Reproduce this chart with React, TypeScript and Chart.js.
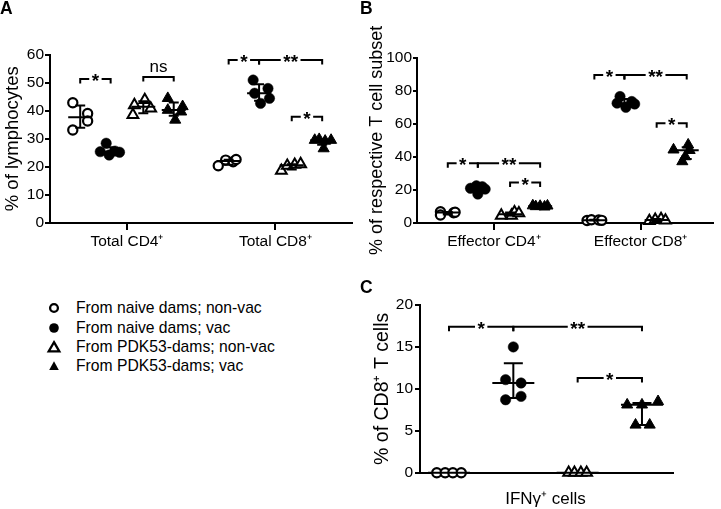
import React, { useEffect, useRef } from 'react';
import { Chart, registerables } from 'chart.js';

Chart.register(...registerables);

const FONT = '"Liberation Sans", Arial, Helvetica, sans-serif';

const GROUP_LABELS = [
  'From naive dams; non-vac',
  'From naive dams; vac',
  'From PDK53-dams; non-vac',
  'From PDK53-dams; vac',
];

// ---------- Panel A ----------
const A_CATEGORIES = ['Total CD4⁺', 'Total CD8⁺'];
const A_Y_TITLE = '% of lymphocytes';
const A_TOTAL_CD4 = [
  [42.8, 39.0, 36.3, 33.1],
  [28.4, 25.4, 25.6, 25.2, 24.2],
  [43.8, 42.0, 40.8, 38.5],
  [44.4, 40.2, 39.6, 41.5, 36.7],
];
const A_TOTAL_CD4_JITTER = [
  [-0.05, 0.05, 0.05, -0.05],
  [-0.03, -0.07, 0.03, 0.06, -0.01],
  [0.01, -0.06, 0.05, -0.07],
  [-0.04, -0.04, 0.05, 0.06, 0.01],
];
const A_TOTAL_CD8 = [
  [20.4, 22.4, 21.8, 22.6],
  [50.9, 47.9, 46.2, 44.4, 42.6],
  [18.6, 20.4, 20.8, 21.0],
  [29.5, 29.8, 29.2, 29.5, 26.5],
];
const A_TOTAL_CD8_JITTER = [
  [-0.07, -0.02, 0.03, 0.05],
  [-0.04, 0.06, -0.03, 0.07, 0.01],
  [-0.07, -0.03, 0.02, 0.06],
  [-0.05, -0.02, 0.02, 0.06, 0.01],
];
const A_SIGNIFICANCE = [
  { cat: 0, from: 0, to: 1, y: 51.3, label: '*' },
  { cat: 0, from: 2, to: 3, y: 52.0, label: 'ns' },
  { cat: 1, from: 0, to: 1, y: 58.0, label: '*' },
  { cat: 1, from: 1, to: 3, y: 58.0, label: '**' },
  { cat: 1, from: 2, to: 3, y: 37.8, label: '*' },
];

// ---------- Panel B ----------
const B_CATEGORIES = ['Effector CD4⁺', 'Effector CD8⁺'];
const B_Y_TITLE = '% of respective T cell subset';
const B_EFFECTOR_CD4 = [
  [6.8, 4.8, 6.2, 6.5],
  [21.0, 22.0, 20.5, 22.5, 17.5],
  [4.5, 4.5, 6.5, 6.0],
  [10.5, 10.0, 10.2, 9.8, 10.4],
];
const B_EFFECTOR_CD4_JITTER = [
  [-0.05, -0.05, 0.04, 0.05],
  [-0.05, 0.03, 0.05, -0.01, 0],
  [-0.06, 0.01, 0.03, 0.06],
  [-0.05, -0.03, 0, 0.03, 0.05],
];
const B_EFFECTOR_CD8 = [
  [1.5, 2.0, 1.8, 1.6],
  [76.5, 73.5, 72.5, 70.0, 72.0],
  [1.2, 2.0, 2.5, 1.5],
  [44.3, 47.3, 44.0, 40.2, 37.2],
];
const B_EFFECTOR_CD8_JITTER = [
  [-0.05, -0.02, 0.03, 0.05],
  [-0.03, 0.05, -0.05, 0.01, 0.07],
  [-0.05, -0.01, 0.03, 0.06],
  [-0.09, 0.01, 0.02, -0.01, -0.03],
];
const B_SIGNIFICANCE = [
  { cat: 0, from: 0, to: 1, y: 36.2, label: '*' },
  { cat: 0, from: 1, to: 3, y: 36.2, label: '**' },
  { cat: 0, from: 2, to: 3, y: 24.5, label: '*' },
  { cat: 1, from: 0, to: 1, y: 89.6, label: '*' },
  { cat: 1, from: 1, to: 3, y: 89.6, label: '**' },
  { cat: 1, from: 2, to: 3, y: 60.4, label: '*' },
];

// ---------- Panel C ----------
const C_CATEGORIES = ['IFNγ⁺ cells'];
const C_Y_TITLE = '% of CD8⁺ T cells';
const C_IFNG = [
  [0, 0, 0, 0],
  [15.0, 11.1, 10.7, 8.7, 9.1],
  [0, 0, 0, 0],
  [8.1, 8.1, 8.5, 5.7, 5.7],
];
const C_IFNG_JITTER = [
  [-0.19, -0.06, 0.06, 0.19],
  [0, -0.12, 0.12, -0.12, 0.12],
  [-0.14, -0.05, 0.05, 0.14],
  [-0.23, 0, 0.25, -0.1, 0.12],
];
const C_SIGNIFICANCE = [
  { cat: 0, from: 0, to: 1, y: 17.4, label: '*' },
  { cat: 0, from: 1, to: 3, y: 17.4, label: '**' },
  { cat: 0, from: 2, to: 3, y: 11.3, label: '*' },
];

const GROUP_OFFSETS = [-0.315, -0.11, 0.11, 0.315];

const GROUP_STYLES = [
  { style: 'circle', r: 4.6, fill: '#fff', bw: 2.2 },
  { style: 'circle', r: 5.2, fill: '#000', bw: 0.5 },
  { style: 'triangle', r: 6.2, fill: '#fff', bw: 2 },
  { style: 'triangle', r: 6.4, fill: '#000', bw: 1 },
];

// GraphPad-style median with interquartile range
function quantile(sorted: number[], p: number) {
  const n = sorted.length;
  let r = p * (n + 1);
  if (r < 1) r = 1;
  if (r > n) r = n;
  const lo = Math.floor(r);
  const f = r - lo;
  if (lo >= n) return sorted[n - 1];
  return sorted[lo - 1] + f * (sorted[lo] - sorted[lo - 1]);
}
function stats(vals: number[]) {
  const s = [...vals].sort((a, b) => a - b);
  return { median: quantile(s, 0.5), q1: quantile(s, 0.25), q3: quantile(s, 0.75) };
}

const annotPlugin = {
  id: 'annot',
  afterDatasetsDraw(chart: any, _args: any, opts: any) {
    const { ctx } = chart;
    const xs = chart.scales.x;
    const ys = chart.scales.y;
    ctx.save();
    ctx.strokeStyle = '#000';
    ctx.fillStyle = '#000';
    ctx.lineWidth = 2;
    ctx.lineCap = 'butt';
    ctx.lineJoin = 'miter';
    for (const b of opts.bars || []) {
      const px = xs.getPixelForValue(b.x);
      const pm = ys.getPixelForValue(b.median);
      const p1 = ys.getPixelForValue(b.q1);
      const p3 = ys.getPixelForValue(b.q3);
      ctx.beginPath();
      ctx.moveTo(px - opts.medianHalf, pm);
      ctx.lineTo(px + opts.medianHalf, pm);
      if (Math.abs(p1 - p3) > 0.5) {
        ctx.moveTo(px, p1);
        ctx.lineTo(px, p3);
        ctx.moveTo(px - opts.capHalf, p1);
        ctx.lineTo(px + opts.capHalf, p1);
        ctx.moveTo(px - opts.capHalf, p3);
        ctx.lineTo(px + opts.capHalf, p3);
      }
      ctx.stroke();
    }
    const tick = 4.5;
    for (const br of opts.brackets || []) {
      const x1 = xs.getPixelForValue(br.x1);
      const x2 = xs.getPixelForValue(br.x2);
      const y = ys.getPixelForValue(br.y);
      const mid = (x1 + x2) / 2;
      ctx.lineWidth = 2;
      ctx.beginPath();
      ctx.moveTo(x1, y + tick);
      ctx.lineTo(x1, y);
      if (br.label === 'ns') {
        ctx.lineTo(x2, y);
        ctx.lineTo(x2, y + tick);
        ctx.stroke();
        ctx.font = `17px ${FONT}`;
        ctx.textAlign = 'center';
        ctx.textBaseline = 'alphabetic';
        ctx.fillText(br.label, mid, y - 5);
      } else {
        ctx.font = `bold 19px ${FONT}`;
        const w = ctx.measureText(br.label).width;
        ctx.lineTo(mid - w / 2 - 2.5, y);
        ctx.moveTo(mid + w / 2 + 2.5, y);
        ctx.lineTo(x2, y);
        ctx.lineTo(x2, y + tick);
        ctx.stroke();
        ctx.textAlign = 'center';
        ctx.textBaseline = 'alphabetic';
        ctx.fillText(br.label, mid, y + 8);
      }
    }
    ctx.restore();
  },
};

interface PanelSpec {
  categories: string[];
  tickValues: number[];
  values: number[][][];
  jitter: number[][][];
  groupX: (c: number, g: number) => number;
  xMin: number;
  xMax: number;
  yMax: number;
  yStep: number;
  yTitle: string;
  titleSize: number;
  xLabelSize: number;
  yAxisWidth: number;
  xAxisHeight: number;
  padding: { left: number; top: number; right: number; bottom: number };
  titlePad: number;
  yTickLen: number;
  yTickPad: number;
  xTickLen: number;
  xTickPad: number;
  medianHalf: number;
  capHalf: number;
  significance: { cat: number; from: number; to: number; y: number; label: string }[];
}

function buildConfig(p: PanelSpec): any {
  const datasets = GROUP_STYLES.map((st, g) => ({
    type: 'scatter',
    label: GROUP_LABELS[g],
    data: p.values.flatMap((catGroups, c) =>
      catGroups[g].map((v, i) => ({ x: p.groupX(c, g) + p.jitter[c][g][i], y: v }))
    ),
    pointStyle: st.style,
    pointRadius: st.r,
    pointBackgroundColor: st.fill,
    pointBorderColor: '#000',
    pointBorderWidth: st.bw,
    showLine: false,
    clip: false,
  }));
  const bars: any[] = [];
  p.values.forEach((catGroups, c) =>
    catGroups.forEach((vals, g) => bars.push({ x: p.groupX(c, g), ...stats(vals) }))
  );
  const brackets = p.significance.map((s) => ({
    x1: p.groupX(s.cat, s.from),
    x2: p.groupX(s.cat, s.to),
    y: s.y,
    label: s.label,
  }));
  return {
    type: 'scatter',
    data: { datasets },
    plugins: [annotPlugin],
    options: {
      responsive: false,
      animation: false,
      events: [],
      layout: { padding: p.padding },
      plugins: {
        legend: { display: false },
        tooltip: { enabled: false },
        annot: { bars, brackets, medianHalf: p.medianHalf, capHalf: p.capHalf },
      },
      scales: {
        x: {
          type: 'linear',
          min: p.xMin,
          max: p.xMax,
          afterBuildTicks: (s: any) => {
            s.ticks = p.tickValues.map((v) => ({ value: v }));
          },
          afterFit: (s: any) => {
            s.height = p.xAxisHeight;
          },
          ticks: {
            autoSkip: false,
            maxRotation: 0,
            padding: p.xTickPad,
            color: '#000',
            font: { family: FONT, size: p.xLabelSize },
            callback: (_v: any, i: number) => p.categories[i],
          },
          grid: {
            display: true,
            drawOnChartArea: false,
            drawTicks: p.xTickLen > 0,
            tickLength: p.xTickLen,
            color: '#000',
            lineWidth: 2,
          },
          border: { display: true, color: '#000', width: 2 },
        },
        y: {
          type: 'linear',
          min: 0,
          max: p.yMax,
          afterFit: (s: any) => {
            s.width = p.yAxisWidth;
          },
          ticks: {
            stepSize: p.yStep,
            padding: p.yTickPad,
            color: '#000',
            font: { family: FONT, size: 15.5 },
          },
          grid: {
            display: true,
            drawOnChartArea: false,
            drawTicks: true,
            tickLength: p.yTickLen,
            color: '#000',
            lineWidth: 2,
          },
          border: { display: true, color: '#000', width: 2 },
          title: {
            display: true,
            text: p.yTitle,
            color: '#000',
            font: { family: FONT, size: p.titleSize },
            padding: { top: p.titlePad, bottom: 0 },
          },
        },
      },
    },
  };
}

const SPEC_A: PanelSpec = {
  categories: A_CATEGORIES,
  tickValues: [1, 2],
  values: [A_TOTAL_CD4, A_TOTAL_CD8],
  jitter: [A_TOTAL_CD4_JITTER, A_TOTAL_CD8_JITTER],
  groupX: (c, g) => c + 1 + GROUP_OFFSETS[g],
  xMin: 0.4815,
  xMax: 2.5146,
  yMax: 60,
  yStep: 10,
  yTitle: A_Y_TITLE,
  titleSize: 18.5,
  xLabelSize: 15.5,
  yAxisWidth: 50,
  xAxisHeight: 39,
  padding: { left: 0, top: 54.5, right: 3, bottom: 0 },
  titlePad: 1.4,
  yTickLen: 5,
  yTickPad: 1,
  xTickLen: 7,
  xTickPad: 2,
  medianHalf: 12,
  capHalf: 5,
  significance: A_SIGNIFICANCE,
};

const SPEC_B: PanelSpec = {
  categories: B_CATEGORIES,
  tickValues: [1, 2],
  values: [B_EFFECTOR_CD4, B_EFFECTOR_CD8],
  jitter: [B_EFFECTOR_CD4_JITTER, B_EFFECTOR_CD8_JITTER],
  groupX: (c, g) => c + 1 + GROUP_OFFSETS[g],
  xMin: 0.475,
  xMax: 2.493,
  yMax: 100,
  yStep: 20,
  yTitle: B_Y_TITLE,
  titleSize: 18,
  xLabelSize: 15.5,
  yAxisWidth: 57,
  xAxisHeight: 39,
  padding: { left: 0, top: 57.7, right: 1, bottom: 0 },
  titlePad: 6,
  yTickLen: 4,
  yTickPad: 1,
  xTickLen: 7,
  xTickPad: 2,
  medianHalf: 12,
  capHalf: 5,
  significance: B_SIGNIFICANCE,
};

const SPEC_C: PanelSpec = {
  categories: C_CATEGORIES,
  tickValues: [2.5],
  values: [C_IFNG],
  jitter: [C_IFNG_JITTER],
  groupX: (_c, g) => g + 1,
  xMin: 0.549,
  xMax: 4.487,
  yMax: 20,
  yStep: 5,
  yTitle: C_Y_TITLE,
  titleSize: 19.5,
  xLabelSize: 17,
  yAxisWidth: 60,
  xAxisHeight: 36.3,
  padding: { left: 0, top: 15, right: 47.7, bottom: 0 },
  titlePad: 10.8,
  yTickLen: 5,
  yTickPad: 2,
  xTickLen: 0,
  xTickPad: 16,
  medianHalf: 21,
  capHalf: 9.5,
  significance: C_SIGNIFICANCE,
};

function ChartPanel(props: { spec: PanelSpec; left: number; top: number; width: number; height: number }) {
  const ref = useRef<HTMLCanvasElement>(null);
  useEffect(() => {
    const chart = new Chart(ref.current as HTMLCanvasElement, buildConfig(props.spec));
    return () => chart.destroy();
  }, []);
  return (
    <canvas
      ref={ref}
      width={props.width}
      height={props.height}
      style={{ position: 'absolute', left: props.left, top: props.top, width: props.width, height: props.height }}
    />
  );
}

function Marker({ g }: { g: number }) {
  const common = { stroke: '#000', strokeWidth: 2.3 };
  let shape: any = null;
  if (g === 0) shape = <circle cx={7} cy={7} r={3.9} fill="#fff" {...common} />;
  if (g === 1) shape = <circle cx={7} cy={7} r={4.8} fill="#000" />;
  if (g === 2) shape = <polygon points="7,2.2 12.3,11.3 1.7,11.3" fill="#fff" {...common} strokeLinejoin="miter" />;
  if (g === 3) shape = <polygon points="7,2.2 11.8,11 2.2,11" fill="#000" />;
  return (
    <svg width={14} height={14} style={{ position: 'absolute', left: -7, top: -7, overflow: 'visible' }}>
      {shape}
    </svg>
  );
}

const LEGEND_ROW_Y = [308.3, 327.7, 346.7, 366];

export default function App() {
  useEffect(() => {
    document.body.style.margin = '0';
  }, []);
  const letter = (t: string, left: number, top: number) => (
    <div
      style={{
        position: 'absolute',
        left,
        top,
        fontFamily: FONT,
        fontWeight: 'bold',
        fontSize: 17.5,
        lineHeight: 1,
        color: '#000',
      }}
    >
      {t}
    </div>
  );
  return (
    <div
      style={{
        position: 'absolute',
        left: 0,
        top: 0,
        width: 721,
        height: 509,
        background: '#fff',
        overflow: 'hidden',
        fontFamily: FONT,
      }}
    >
      <ChartPanel spec={SPEC_A} left={0} top={0} width={360} height={262} />
      <ChartPanel spec={SPEC_B} left={360} top={0} width={361} height={262} />
      <ChartPanel spec={SPEC_C} left={360} top={290} width={361} height={219} />
      {letter('A', 0, 0)}
      {letter('B', 360, 0)}
      {letter('C', 360, 279)}
      {GROUP_LABELS.map((lab, g) => (
        <div key={g}>
          <div style={{ position: 'absolute', left: 54, top: LEGEND_ROW_Y[g], width: 0, height: 0 }}>
            <Marker g={g} />
          </div>
          <div
            style={{
              position: 'absolute',
              left: 76,
              top: LEGEND_ROW_Y[g] - 9.9,
              fontSize: 15.7,
              lineHeight: '19px',
              whiteSpace: 'nowrap',
              color: '#000',
            }}
          >
            {lab}
          </div>
        </div>
      ))}
    </div>
  );
}
